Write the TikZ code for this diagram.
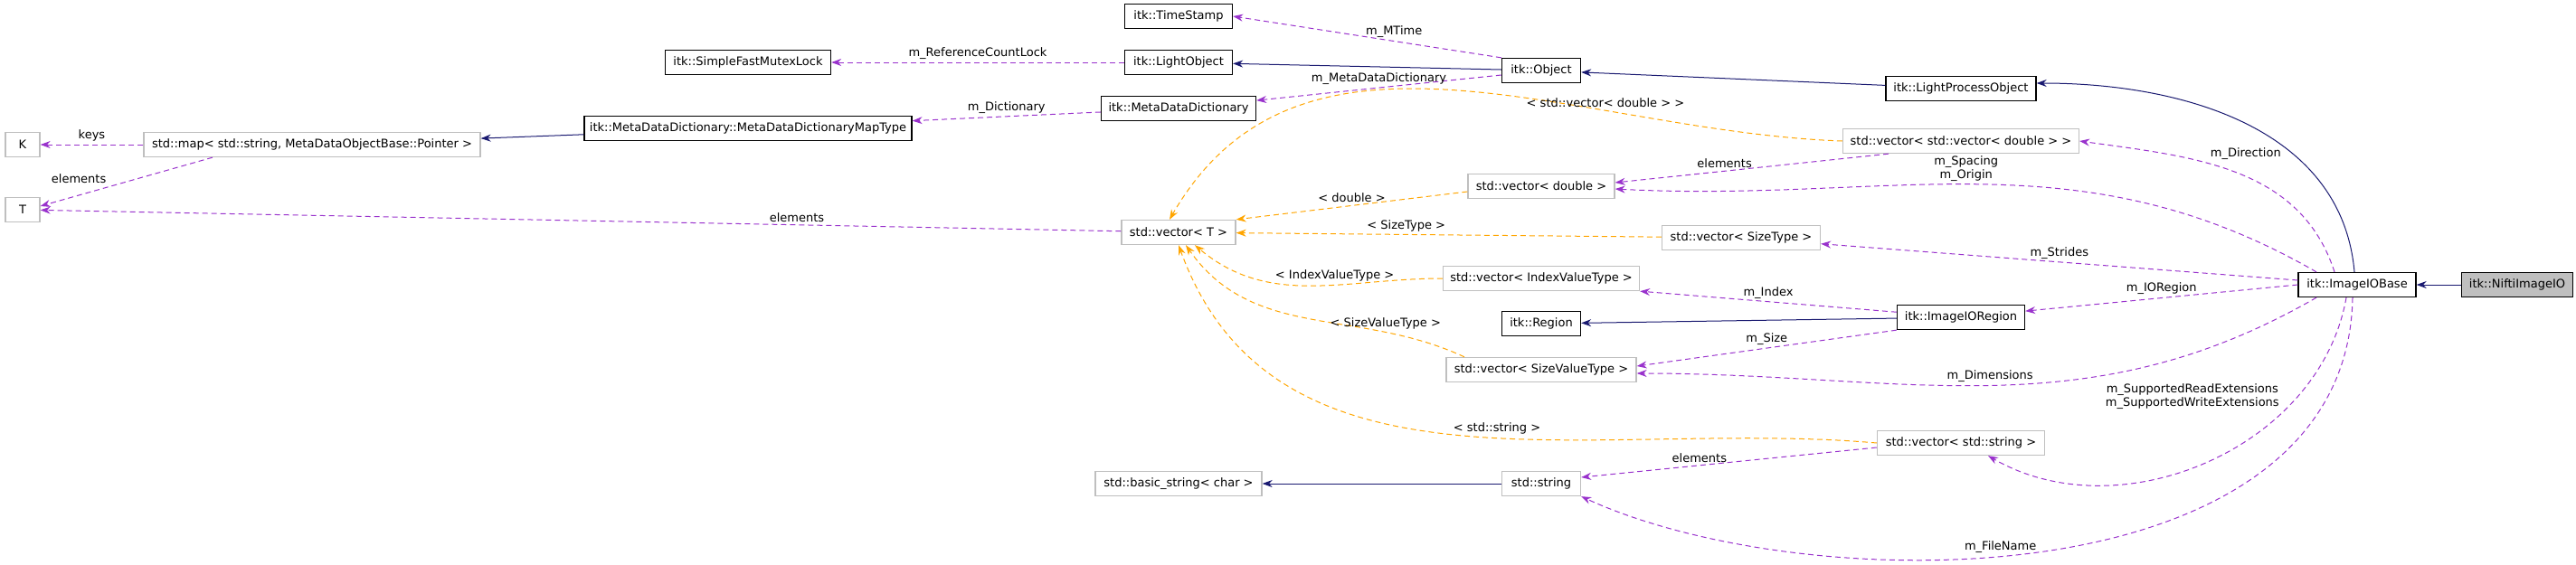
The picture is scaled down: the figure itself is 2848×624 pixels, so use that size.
\documentclass[tikz,border=0pt]{standalone}
\usepackage{fontspec}
\setmainfont{DejaVu Sans}
\usetikzlibrary{arrows.meta}
\usetikzlibrary{positioning}
\definecolor{dxnavy}{RGB}{25,25,112}
\definecolor{dxorchid}{RGB}{153,50,204}
\definecolor{dxorange}{RGB}{255,165,0}
\definecolor{dxgray}{RGB}{191,191,191}
\tikzset{
    cls/.style = {draw=black, line width=1.3pt, fill=white, minimum height=27pt, inner sep=2pt, font=\fontsize{13}{15}\selectfont},
    ext/.style = {cls, draw=dxgray},
    cur/.style = {cls, fill=dxgray},
}
\begin{document}
\begin{tikzpicture}[
	x=1pt, y=1pt,
	font=\fontsize{13}{15}\selectfont,
	line width=1pt
]
\tikzset{
    inh/.style = {-{Stealth[length=11pt,width=8pt]}, dxnavy},
    use/.style = {-{Stealth[length=11pt,width=8pt]}, dxorchid, dash pattern=on 6pt off 4pt},
    tpl/.style = {-{Stealth[length=11pt,width=8pt]}, dxorange, dash pattern=on 6pt off 4pt},
    lbl/.style = {inner sep=3pt, text=black}
}
\useasboundingbox (0,0) rectangle (2848,-624);
% nodes
\node[ext, minimum width=38pt] at (25,-160) (k) {K};
\node[ext, minimum width=38pt] at (25,-232) (t) {T};
\node[ext, minimum width=372pt] at (345,-160) (map) {std::map< std::string, MetaDataObjectBase::Pointer >};
\node[cls, minimum width=183pt] at (827,-69) (mutex) {itk::SimpleFastMutexLock};
\node[cls, minimum width=362pt] at (827,-142) (maptype) {itk::MetaDataDictionary::MetaDataDictionaryMapType};
\node[cls, minimum width=119pt] at (1303,-18) (stamp) {itk::TimeStamp};
\node[cls, minimum width=119pt] at (1303,-69) (light) {itk::LightObject};
\node[cls, minimum width=171pt] at (1303,-120) (dict) {itk::MetaDataDictionary};
\node[ext, minimum width=126pt] at (1303,-257) (vect) {std::vector< T >};
\node[ext, minimum width=184pt] at (1303,-535) (bstr) {std::basic\_string< char >};
\node[cls, minimum width=87pt] at (1704,-78) (obj) {itk::Object};
\node[ext, minimum width=162pt] at (1704,-206) (vdbl) {std::vector< double >};
\node[ext, minimum width=217pt] at (1704,-308) (vidx) {std::vector< IndexValueType >};
\node[cls, minimum width=87pt] at (1704,-358) (region) {itk::Region};
\node[ext, minimum width=210pt] at (1704,-409) (vsval) {std::vector< SizeValueType >};
\node[ext, minimum width=87pt] at (1704,-535) (str) {std::string};
\node[ext, minimum width=175pt] at (1925,-263) (vsize) {std::vector< SizeType >};
\node[cls, minimum width=166pt] at (2168,-98) (lpo) {itk::LightProcessObject};
\node[ext, minimum width=261pt] at (2168,-156) (vvdbl) {std::vector< std::vector< double > >};
\node[cls, minimum width=141pt] at (2168,-351) (ioreg) {itk::ImageIORegion};
\node[ext, minimum width=185pt] at (2168,-490) (vstr) {std::vector< std::string >};
\node[cls, minimum width=130pt] at (2606,-315) (iob) {itk::ImageIOBase};
\node[cur, minimum width=123pt] at (2783,-315) (nifti) {itk::NiftiImageIO};
%
\draw[inh] (maptype) -- (map);
\draw[inh] (obj) -- (light);
\draw[inh] (lpo) -- (obj);
\draw[inh] (ioreg) -- (region);
\draw[inh] (str) -- (bstr);
\draw[inh] (nifti) -- (iob);
\draw[inh] ([xshift=-3pt]iob.north) to[out=95,in=0] ([yshift=6pt]lpo.east);
%
\draw[use] (map) -- node[lbl, above] {keys} (k);
\draw[use] ([xshift=-110pt]map.south) -- node[lbl, above left, pos=0.6] {elements} ([yshift=4pt]t.east);
\draw[use] (vect) -- node[lbl, above, pos=0.3] {elements} (t);
\draw[use] (light) -- node[lbl, above] {m\_ReferenceCountLock} (mutex);
\draw[use] (obj.north west) -- node[lbl, above, pos=0.4] {m\_MTime} (stamp.east);
\draw[use] ([yshift=-5pt]obj.west) -- node[lbl, above] {m\_MetaDataDictionary} (dict);
\draw[use] (dict) -- node[lbl, above] {m\_Dictionary} (maptype);
\draw[use] ([xshift=-80pt]vvdbl.south) -- node[lbl, above, pos=0.6] {elements} ([yshift=4pt]vdbl.east);
%
\draw[use] ([xshift=-25pt]iob.north) to[out=108,in=-8] node[lbl, above right, pos=0.6] {m\_Direction} (vvdbl.east);
\draw[use] ([xshift=-45pt]iob.north) to[out=150,in=-3] node[lbl, above, pos=0.52, align=center] {m\_Spacing\\m\_Origin} ([yshift=-3pt]vdbl.east);
\draw[use] ([yshift=5pt]iob.west) -- node[lbl, above] {m\_Strides} (vsize);
\draw[use] (iob.west) -- node[lbl, above] {m\_IORegion} (ioreg);
\draw[use] (ioreg) -- node[lbl, above] {m\_Index} (vidx.south east);
\draw[use] (ioreg.south west) -- node[lbl, above] {m\_Size} ([yshift=4pt]vsval.east);
\draw[use] ([xshift=-45pt]iob.south) to[out=-150,in=0] node[lbl, above, pos=0.5] {m\_Dimensions} ([yshift=-4pt]vsval.east);
\draw[use] ([xshift=-12pt]iob.south) to[out=-100,in=-30] node[lbl, above left, pos=0.3, align=center] {m\_SupportedReadExtensions\\m\_SupportedWriteExtensions} ([xshift=30pt]vstr.south);
\draw[use] ([xshift=-5pt]iob.south) .. controls (2595,-665) and (2000,-665) .. node[lbl, above, pos=0.55] {m\_FileName} (str.south east);
\draw[use] ([yshift=-5pt]vstr.west) -- node[lbl, above, pos=0.6] {elements} ([yshift=7pt]str.east);
%
\draw[tpl] (vvdbl.west) to[out=178,in=60] node[lbl, above, pos=0.3] {< std::vector< double > >} ([xshift=-10pt]vect.north);
\draw[tpl] ([yshift=-6pt]vdbl.west) -- node[lbl, above] {< double >} (vect.north east);
\draw[tpl] (vsize) -- node[lbl, above, pos=0.6] {< SizeType >} (vect);
\draw[tpl] (vidx.west) to[out=180,in=-40] node[lbl, above, pos=0.4] {< IndexValueType >} ([xshift=18pt]vect.south);
\draw[tpl] ([xshift=-85pt]vsval.north) to[out=155,in=-55] node[lbl, above, pos=0.25] {< SizeValueType >} ([xshift=8pt]vect.south);
\draw[tpl] (vstr.west) to[out=175,in=-70] node[lbl, above, pos=0.45] {< std::string >} (vect.south);
\end{tikzpicture}
\end{document}
